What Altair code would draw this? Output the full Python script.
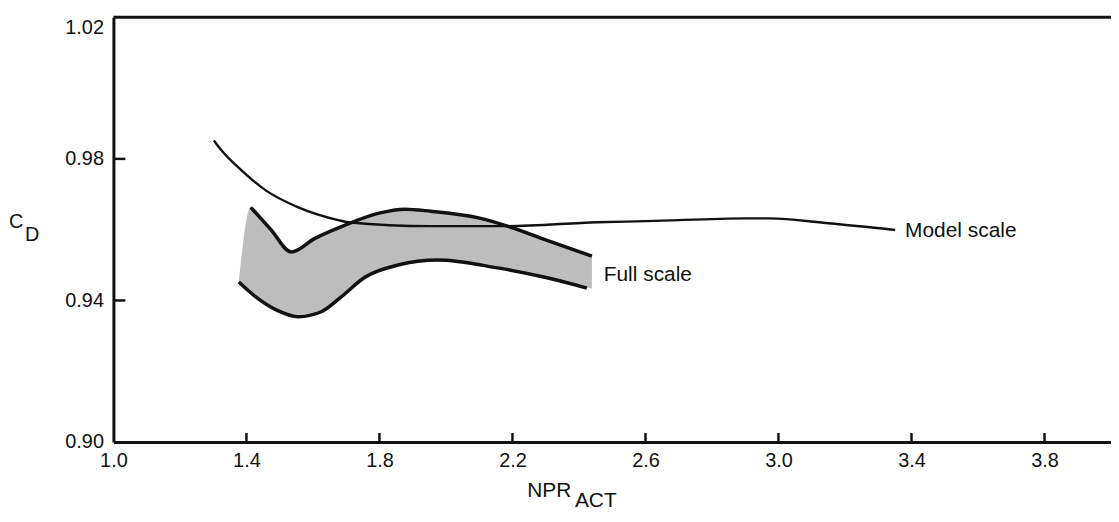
import altair as alt
import pandas as pd

# ---- data ----
model_x = [1.302, 1.326, 1.386, 1.458, 1.556, 1.676, 1.706, 1.954, 2.185, 2.454, 2.603, 2.902, 2.971, 3.151, 3.351]
model_y = [0.9852, 0.9823, 0.9767, 0.9711, 0.9663, 0.9627, 0.9621, 0.9610, 0.9610, 0.9621, 0.9624, 0.9632, 0.9632, 0.9618, 0.9599]

upper_x = [1.413, 1.473, 1.535, 1.607, 1.697, 1.796, 1.876, 1.954, 2.104, 2.185, 2.304, 2.439]
upper_y = [0.9663, 0.9601, 0.9537, 0.9576, 0.9613, 0.9646, 0.9658, 0.9652, 0.9632, 0.9610, 0.9570, 0.9525]

lower_x = [1.377, 1.428, 1.488, 1.556, 1.625, 1.685, 1.757, 1.856, 1.975, 2.155, 2.304, 2.424]
lower_y = [0.9452, 0.9410, 0.9374, 0.9354, 0.9368, 0.9410, 0.9466, 0.9500, 0.9514, 0.9492, 0.9464, 0.9435]

band_x = [1.377, 1.413, 1.473, 1.535, 1.607, 1.697, 1.796, 1.876, 1.954, 2.104, 2.185, 2.304, 2.439]
band_hi = [0.9455, 0.9663, 0.9601, 0.9537, 0.9576, 0.9613, 0.9646, 0.9658, 0.9652, 0.9632, 0.9610, 0.9570, 0.9525]
band_lo = [0.9452, 0.9421, 0.9382, 0.9360, 0.9362, 0.9419, 0.9480, 0.9503, 0.9511, 0.9500, 0.9486, 0.9464, 0.9433]

x_ticks = [1.0, 1.4, 1.8, 2.2, 2.6, 3.0, 3.4, 3.8]
y_ticks = [0.90, 0.94, 0.98, 1.02]
x_inner_ticks = [1.4, 1.8, 2.2, 2.6, 3.0, 3.4, 3.8]
y_inner_ticks = [0.94, 0.98]

# ---- layout ----
W, H = 1003, 427
FONT = "Liberation Sans"
INK = "#111111"

xscale = alt.Scale(domain=[1.0, 4.0], nice=False, zero=False)
yscale = alt.Scale(domain=[0.90, 1.02], nice=False, zero=False)

xaxis = alt.Axis(values=x_ticks, format=".1f", title=None, grid=False, ticks=False,
                 domainWidth=3, domainColor=INK, labelFont=FONT, labelFontSize=20,
                 labelColor=INK, labelPadding=9, labelFlush=False, labelOverlap=False)
yaxis = alt.Axis(values=y_ticks, format=".2f", title=None, grid=False, ticks=False,
                 domainWidth=3, domainColor=INK, labelFont=FONT, labelFontSize=20,
                 labelColor=INK, labelPadding=10, labelFlush=False, labelOverlap=False,
                 labelBaseline=alt.condition("datum.value > 1.01", alt.value("top"), alt.value("middle")))

def X(field):
    return alt.X(f"{field}:Q", scale=xscale, axis=xaxis)

def Y(field):
    return alt.Y(f"{field}:Q", scale=yscale, axis=yaxis)

band_df = pd.DataFrame({"x": band_x, "hi": band_hi, "lo": band_lo})
upper_df = pd.DataFrame({"x": upper_x, "y": upper_y})
lower_df = pd.DataFrame({"x": lower_x, "y": lower_y})
model_df = pd.DataFrame({"x": model_x, "y": model_y})

band = alt.Chart(band_df).mark_area(fill="#bdbdbd", interpolate="monotone").encode(
    x=X("x"), y=Y("hi"), y2="lo:Q")
upper = alt.Chart(upper_df).mark_line(color=INK, strokeWidth=3.5, interpolate="monotone").encode(
    x=X("x"), y=Y("y"))
lower = alt.Chart(lower_df).mark_line(color=INK, strokeWidth=3.5, interpolate="monotone").encode(
    x=X("x"), y=Y("y"))
model = alt.Chart(model_df).mark_line(color=INK, strokeWidth=2.4, interpolate="monotone").encode(
    x=X("x"), y=Y("y"))

xt = alt.Chart(pd.DataFrame({"t": x_inner_ticks})).mark_rule(color=INK, strokeWidth=2.5).encode(
    x=X("t"), y=alt.value(H), y2=alt.value(H - 9))
yt = alt.Chart(pd.DataFrame({"t": y_inner_ticks})).mark_rule(color=INK, strokeWidth=2.5).encode(
    y=Y("t"), x=alt.value(0), x2=alt.value(12))
top = alt.Chart(pd.DataFrame({"a": [0]})).mark_rule(color=INK, strokeWidth=3).encode(
    x=alt.value(0), x2=alt.value(W), y=alt.value(0))

def label(text, x, y, size=20):
    return alt.Chart(pd.DataFrame({"a": [0]})).mark_text(
        align="left", baseline="middle", font=FONT, fontSize=size, color=INK).encode(
        x=alt.value(x), y=alt.value(y), text=alt.value(text))

texts = [
    label("Model scale", 796, 215, 21),
    label("Full scale", 493, 259, 21),
    label("C", -105, 206, 20),
    label("D", -89, 219, 20),
    label("NPR", 416, 476, 21),
    label("ACT", 464, 486, 21),
]

chart = alt.layer(band, upper, lower, model, xt, yt, top, *texts).properties(
    width=W, height=H,
    autosize=alt.AutoSizeParams(type="none"),
    padding={"left": 106, "top": 8, "right": 0, "bottom": 70},
    background="white",
).configure_view(stroke=None)

chart.save("out.html", embed_options={"renderer": "svg", "actions": False})
